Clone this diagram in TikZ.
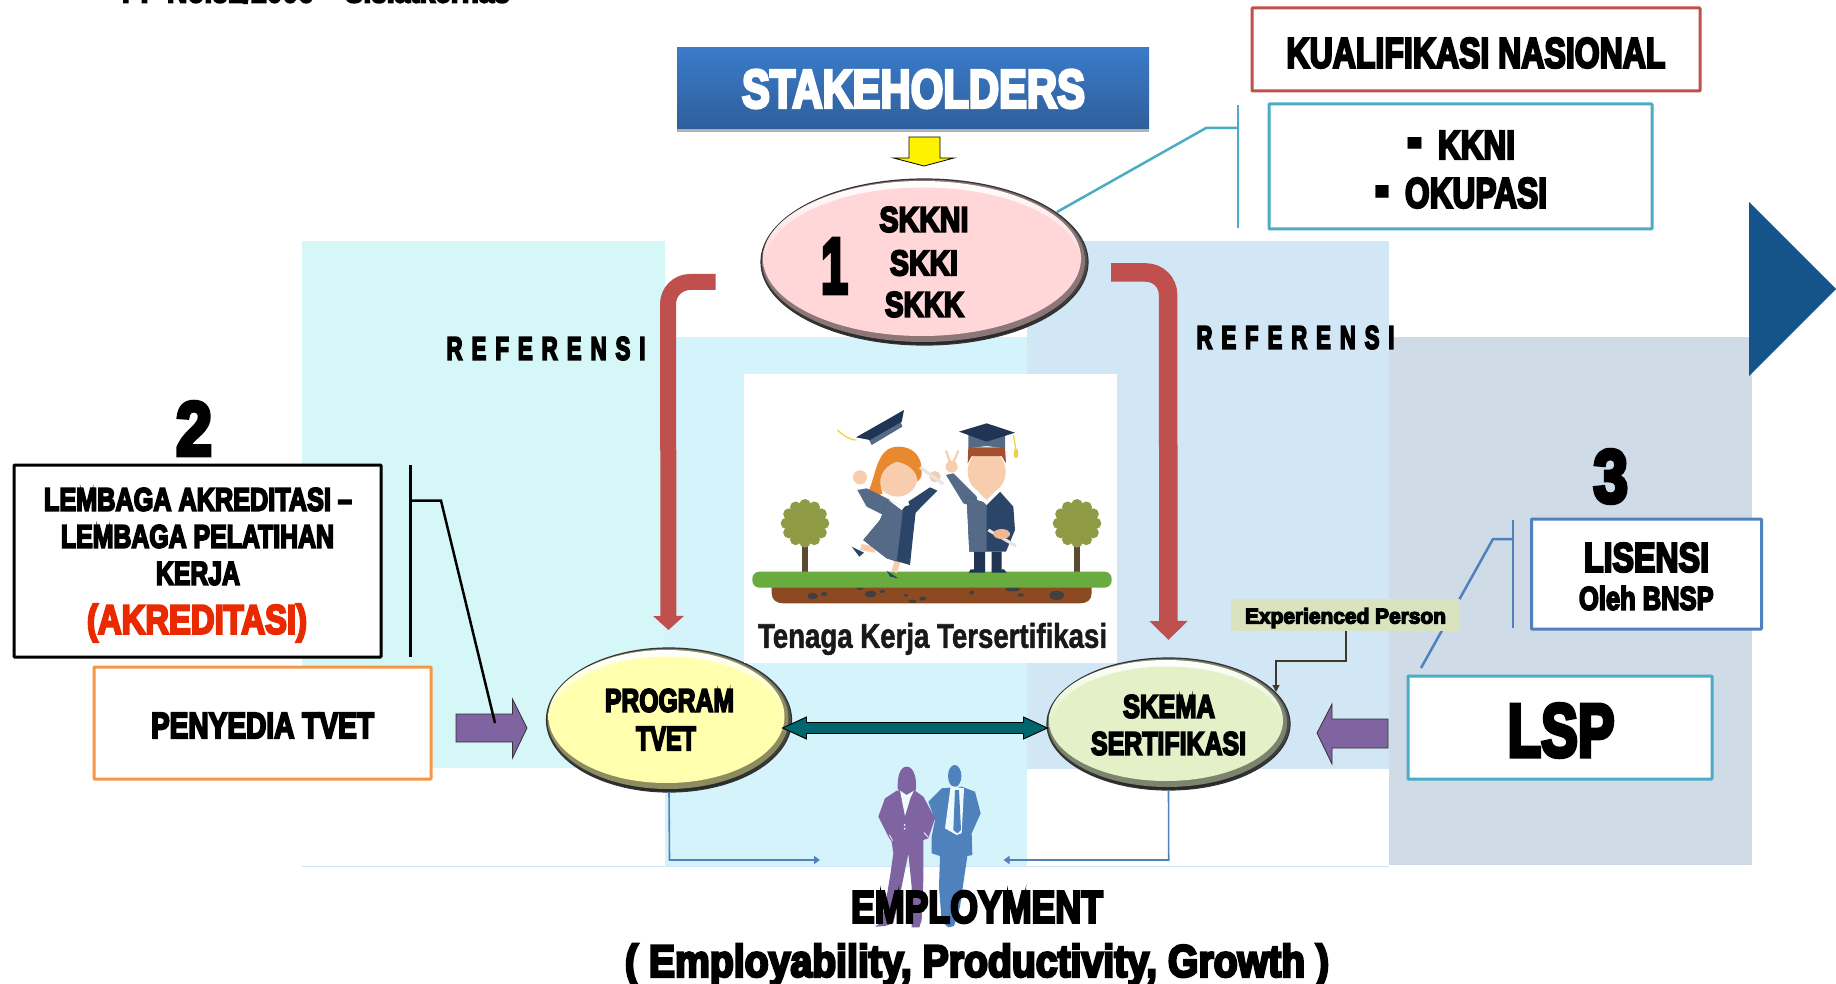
\documentclass[tikz,border=0pt]{standalone}
\usepackage{fontspec}
\usetikzlibrary{shapes.geometric,arrows.meta,calc}
\font\hv="Liberation Sans/B:embolden=6" at 10pt
\font\hvs="Liberation Sans/B:embolden=6;letterspace=40" at 10pt
\font\hvp="Liberation Sans/B:embolden=1.5" at 10pt
\newfontfamily\djv{DejaVu Sans}
\newcommand\fit[3]{\resizebox*{#1pt}{#2pt}{\hv #3}}
\definecolor{pnA}{HTML}{D6F7F7}\definecolor{pnB}{HTML}{D5F3FA}
\definecolor{pnC}{HTML}{D2E7F5}\definecolor{pnD}{HTML}{CFDBE7}
\definecolor{redl}{HTML}{C0504D}\definecolor{cyanl}{HTML}{4BACC6}
\definecolor{bluel}{HTML}{4F81BD}\definecolor{purp}{HTML}{8064A2}
\definecolor{tealk}{HTML}{00666E}\definecolor{darkb}{HTML}{15548A}
\definecolor{gown}{HTML}{2B4568}\definecolor{gownl}{HTML}{546A86}
\definecolor{skin}{HTML}{F7CDAE}\definecolor{skind}{HTML}{F2B894}
\definecolor{capd}{HTML}{1F3553}\definecolor{treeg}{HTML}{8F9A45}
\definecolor{trunkc}{HTML}{5A4A2F}\definecolor{groundg}{HTML}{6AAB3F}
\definecolor{soilc}{HTML}{8B4A22}\definecolor{hairg}{HTML}{E8892F}
\definecolor{hairb}{HTML}{A5502C}\definecolor{tassel}{HTML}{F0D040}
\definecolor{stkta}{HTML}{3B7BC9}\definecolor{stktb}{HTML}{2E5F9B}
\definecolor{pinkc}{HTML}{FFD7D8}\definecolor{yelc}{HTML}{FFFFAE}
\definecolor{grnc}{HTML}{E4F0C8}\definecolor{orgl}{HTML}{F79646}
\definecolor{redt}{HTML}{E92A00}\definecolor{expc}{HTML}{D9E4BF}
\tikzset{
 tx/.style={inner sep=0pt,outer sep=0pt,anchor=center},
 boxs/.style={draw=#1,line width=3pt,fill=white,rectangle,inner sep=0pt,outer sep=0pt,rounded corners=0.8pt},
 rim/.style={ellipse,inner sep=0pt,outer sep=0pt,draw=black!80,line width=1.2pt,top color=black!55,bottom color=black!85},
 glow/.style={ellipse,inner sep=0pt,outer sep=0pt,top color=white,bottom color=#1,middle color=#1},
 core/.style={ellipse,inner sep=0pt,outer sep=0pt,fill=#1},
 redarrow/.style={draw=redl,line width=#1,rounded corners=22pt},
 blockp/.style={fill=purp,draw=black!80,line width=0.8pt},
}
\newcommand\bevel[6]{% name cx cy w h colour
 \node[rim,minimum width=#4pt,minimum height=#5pt] (#1) at (#2,#3) {};
 \node[core=#6!55!black,minimum width={#4-4},minimum height={#5-4}] (#1m) at (#2-1,#3-1) {};
 \node[glow=#6,minimum width={#4-9},minimum height={#5-11}] (#1g) at (#2-2.5,#3-3.5) {};
 \node[core=#6,minimum width={#4-15},minimum height={#5-19}] (#1c) at (#2-1.5,#3-1) {};
}
\newcommand\sktree[1]{%
 \fill[trunkc] (#1-9,555) rectangle (#1+9,636);
 \fill[treeg] (#1,490) circle (58);
 \foreach \a in {0,30,...,330}{\fill[treeg] ({#1+56*cos(\a)},{490+56*sin(\a)}) circle (17);}
}
\begin{document}
\begin{tikzpicture}[x=1pt,y=-1pt]
\useasboundingbox (0,0) rectangle (1836,984);
% panels
\fill[pnA] (302,241) rectangle (665,768);
\fill[pnB] (665,337) rectangle (1027,866);
\fill[pnC] (1027,241) rectangle (1389,769);
\fill[pnD] (1389,337) rectangle (1752,865);
\draw[pnC,line width=1pt] (302,866) -- (1389,866);
\fill[darkb] (1749,202) -- (1836,289) -- (1749,376) -- cycle;
% top clipped text
\node[tx] (pp) at (316,-10) {\fit{388}{26}{PP No.31/2006 – Sislatkernas}};
% stakeholders
\fill[black!30] (677,132) rectangle (1149,125);
\node[rectangle,inner sep=0pt,outer sep=0pt,minimum width=472pt,minimum height=81pt,top color=stkta,bottom color=stktb] (stk) at (913,88.5) {};
\node[tx,text=white] (stkt) at (913.5,89) {\fit{343}{38}{STAKEHOLDERS}};
% yellow arrow
\draw[fill=yellow,draw=black,line width=0.8pt] (909,137) -- (940,137) -- (940,158) -- (954,158) -- (924,166) -- (893.5,158) -- (909,158) -- cycle;
% callout 1
\coordinate (c1a) at (1057,212);\coordinate (c1b) at (1206,128);\coordinate (c1c) at (1238,128);
\coordinate (c1t) at (1238,105);\coordinate (c1d) at (1238,228);
\draw[cyanl,line width=2.5pt] (c1a) -- (c1b) -- (c1c);
\draw[cyanl,line width=2pt] (c1t) -- (c1d);
% skkni ellipse
\bevel{skkni}{924.5}{262}{327}{166}{pinkc}
\node[tx] (s1) at (924,219.5) {\fit{89}{25}{SKKNI}};
\node[tx] (s2) at (924,263) {\fit{68}{25}{SKKI}};
\node[tx] (s3) at (924.5,304.5) {\fit{79}{25}{SKKK}};
\node[tx] (one) at (834.5,266) {\fit{27}{54}{1}};
% red connectors
\coordinate (rl0) at (715.5,282);\coordinate (rl1) at (668,282);\coordinate (rl2) at (668.5,630);
\draw[redarrow=16pt,-{Triangle[length=14pt,width=30pt]}] (rl0) -- (rl1) -- (rl2);
\coordinate (rr0) at (1111,272.5);\coordinate (rr1) at (1168,272.5);\coordinate (rr2) at (1168.5,640);
\draw[redarrow=18.5pt,-{Triangle[length=19pt,width=37pt]}] (rr0) -- (rr1) -- (rr2);
\node[tx] (refl) at (546,348.5) {\resizebox*{199pt}{23pt}{\hvs REFERENSI}};
\node[tx] (refr) at (1295.5,337.5) {\resizebox*{198pt}{23pt}{\hvs REFERENSI}};
% kualifikasi
\node[boxs=redl,minimum width=448pt,minimum height=83pt] (kual) at (1476,49.5) {};
\node[tx] (kualt) at (1476,53) {\fit{379}{30}{KUALIFIKASI NASIONAL}};
\node[boxs=cyanl,minimum width=383pt,minimum height=125pt] (kk) at (1460.5,166.5) {};
\node[tx] (b1) at (1414.5,144) {\resizebox*{19pt}{12pt}{\djv ▪}};
\node[tx] (kk1) at (1476.5,145) {\fit{77}{28}{KKNI}};
\node[tx] (b2) at (1382,192.5) {\resizebox*{18pt}{13pt}{\djv ▪}};
\node[tx] (kk2) at (1476,193) {\fit{142}{30}{OKUPASI}};
% program + skema
\bevel{prog}{669}{720}{245}{144}{yelc}
\node[tx] (p1) at (669.5,700.5) {\fit{129}{23}{PROGRAM}};
\node[tx] (p2) at (666,738.5) {\fit{60}{23}{TVET}};
\bevel{skema}{1168.5}{724}{243}{132}{grnc}
\node[tx] (k1) at (1169,706.5) {\fit{92}{23}{SKEMA}};
\node[tx] (k2) at (1168.5,743.5) {\fit{155}{23}{SERTIFIKASI}};
% teal double arrow
\coordinate (tl) at (782.5,728);\coordinate (tr) at (1047.5,728);
\draw[fill=tealk,draw=black,line width=0.9pt] (tl) -- ++(24,-11) -- ++(0,5.5) -- ($(tr)+(-24,-5.5)$) -- ++(0,-5.5) -- (tr) -- ++(-24,11) -- ++(0,-5.5) -- ($(tl)+(24,5.5)$) -- ++(0,5.5) -- cycle;
% picture
\node[rectangle,fill=white,inner sep=0pt,outer sep=0pt,minimum width=373pt,minimum height=289pt] (pic) at (930.5,518.5) {};
\begin{scope}[shift={(700,360)},x=0.33333pt,y=-0.33333pt]
 \sktree{315}\sktree{1131}
 % ground
 \fill[soilc] (215,670) -- (1175,670) -- (1175,700) .. controls (1175,720) and (1160,730) .. (1140,730) -- (250,730) .. controls (230,730) and (215,720) .. (215,700) -- cycle;
 \fill[black!75] (338,708) ellipse (16 and 10) (372,702) ellipse (10 and 6) (512,702) ellipse (18 and 10) (547,694) ellipse (8 and 5) (480,686) ellipse (10 and 4) (618,706) ellipse (6 and 4) (668,716) ellipse (10 and 6) (637,724) ellipse (12 and 5) (815,698) ellipse (7 and 6) (938,688) ellipse (22 and 6) (962,705) ellipse (10 and 5) (1070,706) ellipse (22 and 14);
 \fill[groundg,rounded corners=7pt] (157,635) rectangle (1235,683);
 % flying cap
 \draw[tassel,line width=1.2pt] (470,240) .. controls (445,240) and (430,225) .. (412,210);
 \fill[gownl] (505,235) -- (600,180) -- (607,200) -- (515,255) -- cycle;
 \fill[capd] (468,232) -- (612,150) -- (605,185) -- (510,240) -- cycle;
 % girl
 \fill[gown] (455,560) -- (492,578) -- (478,590) -- cycle;
 \fill[skin] (485,552) -- (530,560) -- (525,578) -- (480,570) -- cycle;
 \fill[gown] (560,632) -- (595,655) -- (570,650) -- cycle;
 \fill[skin] (585,598) -- (602,605) -- (590,640) -- (575,632) -- cycle;
 \fill[skin] (592,352) ellipse (60 and 58);
 \fill[hairg] (595,260) .. controls (530,260) and (530,340) .. (505,395) .. controls (520,415) .. (548,400) .. controls (530,360) and (545,320) .. (590,305) .. controls (625,312) and (650,330) .. (653,365) .. controls (665,350) .. (665,330) .. controls (665,290) and (640,260) .. (595,260) -- cycle;
 \fill[skin] (480,352) circle (21);
 \fill[skin] (705,350) circle (17);
 \draw[black!10,line width=3pt] (660,322) -- (730,372);
 \fill[gownl] (472,390) -- (500,385) -- (570,420) -- (560,470) -- (500,440) -- cycle;
 \fill[gown] (712,392) -- (690,382) -- (625,425) -- (640,465) -- cycle;
 \fill[gown] (565,420) -- (610,440) -- (650,430) -- (640,520) -- (630,615) -- (560,595) -- (490,540) -- (540,480) -- cycle;
 \fill[gownl] (565,420) -- (610,440) -- (590,605) -- (560,595) -- (490,540) -- (540,480) -- cycle;
 \fill[white] (565,420) -- (605,450) -- (625,428) -- (605,436) -- cycle;
 % boy
 \draw[skin,line width=2.2pt] (738,272) -- (755,320) (775,272) -- (755,320);
 \fill[skin] (755,320) circle (18);
 \fill[gownl] (738,345) -- (760,340) -- (830,410) -- (835,445) -- (790,430) -- cycle;
 \fill[capd] (822,575) rectangle (855,630) (875,575) rectangle (905,630);
 \fill[capd] (806,638) -- (812,628) -- (855,628) -- (855,638) -- cycle (875,638) -- (875,628) -- (912,628) -- (920,638) -- cycle;
 \fill[gown] (800,410) -- (860,430) -- (900,395) -- (940,440) -- (945,510) -- (918,575) -- (808,575) -- cycle;
 \fill[gownl] (800,410) -- (860,430) -- (860,575) -- (808,575) -- cycle;
 \fill[white] (820,395) -- (860,435) -- (900,395) -- (885,395) -- (860,420) -- (835,395) -- cycle;
 \fill[skin] (835,370) rectangle (885,395) (835,395) -- (885,395) -- (860,420) -- cycle;
 \fill[skin] (860,335) ellipse (57 and 65);
 \fill[hairb] (805,262) -- (915,262) -- (918,310) -- (905,288) -- (815,288) -- (803,310) -- cycle;
 \fill[gownl] (805,225) -- (915,225) -- (915,265) -- (860,258) -- (805,265) -- cycle;
 \fill[capd] (777,215) -- (860,190) -- (945,218) -- (860,245) -- cycle;
 \draw[tassel,line width=1.2pt] (940,225) -- (948,270);
 \fill[tassel] (948,280) ellipse (7 and 15);
 \draw[black!10,line width=3pt] (865,510) -- (948,558);
 \fill[skind] (905,522) ellipse (25 and 15);
\end{scope}
\node[tx,text=black!90] (pict) at (932.5,639) {\resizebox*{349pt}{32pt}{\hvp Tenaga Kerja Tersertifikasi}};
% lembaga
\node[boxs=black,minimum width=367pt,minimum height=192pt] (lem) at (197.5,561) {};
\node[tx] (two) at (194,428.5) {\fit{36}{53}{2}};
\node[tx] (l1) at (198,499.5) {\fit{308}{23}{LEMBAGA AKREDITASI –}};
\node[tx] (l2) at (197.5,536.5) {\fit{273}{23}{LEMBAGA PELATIHAN}};
\node[tx] (l3) at (198,573.5) {\fit{84}{23}{KERJA}};
\node[tx,text=redt] (l4) at (197,623) {\fit{220}{38}{(AKREDITASI)}};
\coordinate (bt) at (410.7,465);\coordinate (bb) at (410.7,657);\coordinate (bm) at (410.7,500.7);
\coordinate (bk) at (441,500.7);
\node[boxs=orgl,minimum width=337pt,minimum height=112pt] (pen) at (262.5,723) {};
\node[tx] (pent) at (262.5,725.5) {\fit{223}{25}{PENYEDIA TVET}};
% purple arrows
\draw[blockp] (456,714) -- (512.5,714) -- (512.5,699) -- (527,728) -- (512.5,758) -- (512.5,742) -- (456,742) -- cycle;
\draw[blockp] (1388,719) -- (1332,719) -- (1332,704) -- (1317,733) -- (1332,764) -- (1332,748) -- (1388,748) -- cycle;
\coordinate (bz) at (495,723);
\draw[black,line width=3pt] (bt) -- (bb);
\draw[black,line width=2.5pt] (bm) -- (bk) -- (bz);
% lisensi
\coordinate (ls0) at (1421,668);\coordinate (ls1) at (1493,539);\coordinate (ls2) at (1513,539);
\coordinate (lst) at (1513,520);\coordinate (lsb) at (1513,628);
\draw[bluel,line width=2.5pt] (ls0) -- (ls1) -- (ls2);
\draw[bluel,line width=2.5pt] (lst) -- (lsb);
\node[tx] (three) at (1610.7,476.5) {\fit{34.5}{53}{3}};
\node[boxs=bluel,minimum width=230pt,minimum height=110pt] (lis) at (1646.5,574) {};
\node[tx] (lis1) at (1646.5,557.5) {\fit{125}{29}{LISENSI}};
\node[tx] (lis2) at (1646.3,598) {\fit{134.6}{24}{Oleh BNSP}};
\node[boxs=cyanl,minimum width=304pt,minimum height=103pt] (lsp) at (1560,727.5) {};
\node[tx] (lspt) at (1561,730.5) {\fit{107}{53}{LSP}};
% experienced
\node[rectangle,fill=expc,inner sep=0pt,outer sep=0pt,minimum width=229pt,minimum height=32pt] (exp) at (1345.5,615) {};
\node[tx] (expt) at (1345.5,618) {\fit{201}{20}{Experienced Person}};
\coordinate (ex1) at (1346,661);\coordinate (ex2) at (1276,661);\coordinate (ex3) at (1276,692);
\draw[black!75!olive,line width=1.2pt,-{Triangle[length=7pt,width=7pt]}] (exp.south -| ex1) -- (ex1) -- (ex2) -- (ex3);
% elbows
\coordinate (el1) at (669.5,860);\coordinate (el2) at (820,860);
\coordinate (er1) at (1168.7,860);\coordinate (er2) at (1003.5,860);
\draw[bluel,line width=1.6pt,-{Triangle[length=6pt,width=8pt]}] (prog.south) -- (el1) -- (el2);
\draw[bluel,line width=1.6pt,-{Triangle[length=6pt,width=8pt]}] (skema.south) -- (er1) -- (er2);
% people
\begin{scope}[shift={(860,720)},x=0.33333pt,y=-0.33333pt]
 \fill[bluel] (284,168) ellipse (20 and 33);
 \fill[bluel] (245,205) -- (205,245) -- (225,300) -- (215,350) -- (215,400) -- (240,408) -- (237,500) -- (245,605) -- (265,622) -- (282,618) -- (300,560) -- (310,490) -- (322,408) -- (337,405) -- (335,340) -- (362,280) -- (345,215) -- (305,200) -- cycle;
 \fill[pnB!40!white] (272,198) -- (312,205) -- (305,340) -- (290,345) -- (255,325) -- cycle;
 \fill[bluel] (285,210) -- (297,210) -- (303,330) -- (292,340) -- (280,330) -- cycle;
 \fill[purp] (140,140) .. controls (118,140) and (112,175) .. (113,205) -- (118,215) -- (165,215) -- (168,205) .. controls (170,175) and (162,140) .. (140,140) -- cycle;
 \fill[purp] (110,212) -- (75,235) -- (55,290) -- (85,350) -- (95,365) -- (100,400) -- (90,470) -- (75,560) -- (60,610) -- (45,620) -- (75,618) -- (100,610) -- (125,500) -- (145,400) -- (155,500) -- (155,622) -- (178,622) -- (185,600) -- (190,480) -- (190,360) -- (205,355) -- (225,295) -- (190,230) -- (165,212) -- cycle;
 \fill[pnB!40!white] (120,212) -- (135,288) -- (152,232) -- (162,212) -- (140,225) -- cycle;
 \fill[pnB!40!white] (134,315) circle (3) (134,326) circle (3);
 \draw[pnB!40!white,line width=0.8pt] (88,345) -- (98,362) (192,338) -- (205,352);
\end{scope}
% employment
\node[tx] (emp) at (977,907) {\fit{252}{32}{EMPLOYMENT}};
\node[tx] (emp2) at (977,965) {\fit{704}{42}{( Employability, Productivity, Growth )}};
\end{tikzpicture}
\end{document}
